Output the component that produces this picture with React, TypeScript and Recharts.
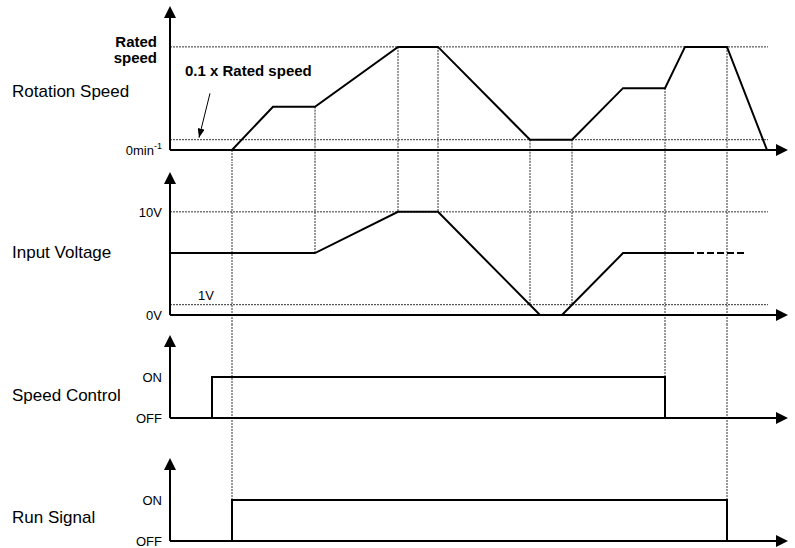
import React from 'react';
import { LineChart, Line, XAxis, YAxis, ReferenceLine } from 'recharts';

const FONT = '"Liberation Sans", Arial, Helvetica, sans-serif';

// shared time axis (arbitrary units)
const timeMax = 60.6;
const guideEnd = 59.8;

// rotation speed, 1 = rated speed
const speedTimes = [0, 6.2, 10.3, 14.5, 22.8, 26.8, 36.0, 40.2, 45.3, 49.5, 51.5, 55.7, 59.7];
const speedValues = [0, 0, 0.42, 0.42, 1, 1, 0.1, 0.1, 0.6, 0.6, 1, 1, 0];
const speedTicks = [0, 1];
const speedTickLabels = ['0min', 'Rated speed'];
const ratedSpeed = 1;
const lowSpeed = 0.1;

// input voltage (V)
const voltageTimes = [0, 14.5, 22.8, 26.8, 37.0, 39.2, 45.3, 51.7];
const voltageValues = [6, 6, 10, 10, 0, 0, 6, 6];
const voltageDashTimes = [51.7, 57.5];
const voltageDashValues = [6, 6];
const voltageTicks = [0, 10];
const voltageTickLabels = ['0V', '10V'];
const maxVoltage = 10;
const minVoltage = 1;

// on / off signals, 1 = ON
const speedControlTimes = [0, 4.2, 49.5];
const speedControlValues = [0, 1, 0];
const runSignalTimes = [0, 6.2, 55.7];
const runSignalValues = [0, 1, 0];
const onOffTicks = [0, 1];
const onOffLabels = ['OFF', 'ON'];

// dotted vertical guides: time, level where they start (speed panel),
// panel where they stop and the level they stop at
const guideTimes = [6.2, 14.5, 22.8, 26.8, 36.0, 40.2, 49.5, 55.7];
const guideStart = [0, 0.42, 1, 1, 0.1, 0.1, 0.6, 1];
const guideEndPanel = [3, 1, 1, 1, 1, 1, 2, 3];
const guideEndLevel = [0, 6, 10, 10, 1, 1, 0, 0];

const toPoints = (ts: number[], vs: number[]) => ts.map((t, i) => ({ t, v: vs[i] }));

const GUIDE = { stroke: '#333', strokeWidth: 1, strokeDasharray: '2 1' };

const panels = [
  { title: 'Rotation Speed', titleY: 93, height: 162, top: 18, bottom: 12, yMax: 1.28 },
  { title: 'Input Voltage', titleY: 92, height: 163, top: 22, bottom: 10, yMax: 12.7 },
  { title: 'Speed Control', titleY: 72, height: 115, top: 22, bottom: 22, yMax: 1.73 },
  { title: 'Run Signal', titleY: 79, height: 108, top: 30, bottom: 7, yMax: 1.73 },
];

function guideLines(panel: number, yMax: number) {
  return guideTimes.map((t, i) => {
    const endPanel = guideEndPanel[i];
    if (panel > endPanel) return null;
    const from = panel === 0 ? guideStart[i] : yMax * 2;
    const to = panel === endPanel ? guideEndLevel[i] : -yMax;
    return (
      <ReferenceLine
        key={`g-${panel}-${i}`}
        segment={[{ x: t, y: from }, { x: t, y: to }]}
        ifOverflow="visible"
        {...GUIDE}
      />
    );
  });
}

const speedTick = (props: any) => {
  const { x, y, payload } = props;
  const idx = speedTicks.indexOf(payload.value);
  if (idx === 1) {
    const [a, b] = speedTickLabels[1].split(' ');
    return (
      <text x={x - 5} y={y} textAnchor="end" fontFamily={FONT} fontSize={15} fontWeight="bold" fill="#000">
        <tspan x={x - 5} dy={0}>{a}</tspan>
        <tspan x={x - 5} dy={16}>{b}</tspan>
      </text>
    );
  }
  return (
    <text x={x} y={y} dy={5} textAnchor="end" fontFamily={FONT} fontSize={13} fill="#000">
      {speedTickLabels[0]}
      <tspan dy={-6} fontSize={9}>-1</tspan>
    </text>
  );
};

const makeTick = (ticks: number[], labels: string[]) => (props: any) => {
  const { x, y, payload } = props;
  return (
    <text x={x} y={y} dy={5} textAnchor="end" fontFamily={FONT} fontSize={13} fill="#000">
      {labels[ticks.indexOf(payload.value)]}
    </text>
  );
};

function Panel({ index, ticks, tick, children }: any) {
  const p = panels[index];
  return (
    <div style={{ position: 'relative', width: 795, height: p.height }}>
      <div
        style={{
          position: 'absolute',
          left: 12,
          top: p.titleY - 11,
          fontFamily: FONT,
          fontSize: 17,
          lineHeight: '20px',
          color: '#000',
          whiteSpace: 'nowrap',
        }}
      >
        {p.title}
      </div>
      <LineChart width={795} height={p.height} margin={{ top: p.top, right: 19, bottom: p.bottom - 2, left: 0 }}>
        <XAxis
          type="number"
          dataKey="t"
          domain={[0, timeMax]}
          allowDataOverflow
          tick={false}
          tickLine={false}
          height={2}
          axisLine={{ stroke: '#000', strokeWidth: 2, markerEnd: 'url(#axisArrow)' }}
        />
        <YAxis
          type="number"
          dataKey="v"
          domain={[0, p.yMax]}
          allowDataOverflow
          ticks={ticks}
          interval={0}
          width={170}
          tickLine={false}
          tick={tick}
          axisLine={{ stroke: '#000', strokeWidth: 2, markerStart: 'url(#axisArrow)' }}
        />
        {guideLines(index, p.yMax)}
        {children}
      </LineChart>
    </div>
  );
}

export default function App() {
  return (
    <div style={{ position: 'absolute', left: 0, top: 0, width: 795, height: 548, background: '#fff' }}>
      <svg width={0} height={0} style={{ position: 'absolute' }}>
        <defs>
          <marker
            id="axisArrow"
            viewBox="0 0 12 12"
            markerWidth={12}
            markerHeight={12}
            refX={0}
            refY={6}
            orient="auto-start-reverse"
            markerUnits="userSpaceOnUse"
          >
            <path d="M0,0 L12,6 L0,12 z" fill="#000" />
          </marker>
          <marker
            id="noteArrow"
            viewBox="0 0 9 7"
            markerWidth={9}
            markerHeight={7}
            refX={9}
            refY={3.5}
            orient="auto"
            markerUnits="userSpaceOnUse"
          >
            <path d="M0,0 L9,3.5 L0,7 z" fill="#000" />
          </marker>
        </defs>
      </svg>

      <Panel index={0} ticks={speedTicks} tick={speedTick}>
        <ReferenceLine segment={[{ x: 0, y: ratedSpeed }, { x: guideEnd, y: ratedSpeed }]} ifOverflow="visible" {...GUIDE} />
        <ReferenceLine segment={[{ x: 0, y: lowSpeed }, { x: guideEnd, y: lowSpeed }]} ifOverflow="visible" {...GUIDE} />
        <ReferenceLine
          segment={[{ x: 4.0, y: 0.55 }, { x: 2.9, y: 0.12 }]}
          ifOverflow="visible"
          shape={(s: any) => (
            <line x1={s.x1} y1={s.y1} x2={s.x2} y2={s.y2} stroke="#000" strokeWidth={1} markerEnd="url(#noteArrow)" />
          )}
        />
        <Line
          data={toPoints(speedTimes, speedValues)}
          dataKey="v"
          type="linear"
          stroke="#000"
          strokeWidth={2}
          dot={false}
          isAnimationActive={false}
        />
      </Panel>

      <Panel index={1} ticks={voltageTicks} tick={makeTick(voltageTicks, voltageTickLabels)}>
        <ReferenceLine segment={[{ x: 0, y: maxVoltage }, { x: guideEnd, y: maxVoltage }]} ifOverflow="visible" {...GUIDE} />
        <ReferenceLine
          segment={[{ x: 0, y: minVoltage }, { x: guideEnd, y: minVoltage }]}
          ifOverflow="visible"
          {...GUIDE}
          label={(l: any) => (
            <text x={l.viewBox.x + 28} y={l.viewBox.y - 5} fontFamily={FONT} fontSize={13} fill="#000">
              1V
            </text>
          )}
        />
        <Line
          data={toPoints(voltageTimes, voltageValues)}
          dataKey="v"
          type="linear"
          stroke="#000"
          strokeWidth={2}
          dot={false}
          isAnimationActive={false}
        />
        <Line
          data={toPoints(voltageDashTimes, voltageDashValues)}
          dataKey="v"
          type="linear"
          stroke="#000"
          strokeWidth={2}
          strokeDasharray="7 3"
          dot={false}
          isAnimationActive={false}
        />
      </Panel>

      <Panel index={2} ticks={onOffTicks} tick={makeTick(onOffTicks, onOffLabels)}>
        <Line
          data={toPoints(speedControlTimes, speedControlValues)}
          dataKey="v"
          type="stepAfter"
          stroke="#000"
          strokeWidth={2}
          dot={false}
          isAnimationActive={false}
        />
      </Panel>

      <Panel index={3} ticks={onOffTicks} tick={makeTick(onOffTicks, onOffLabels)}>
        <Line
          data={toPoints(runSignalTimes, runSignalValues)}
          dataKey="v"
          type="stepAfter"
          stroke="#000"
          strokeWidth={2}
          dot={false}
          isAnimationActive={false}
        />
      </Panel>

      <div
        style={{
          position: 'absolute',
          left: 185,
          top: 62,
          fontFamily: FONT,
          fontSize: 15,
          fontWeight: 'bold',
          lineHeight: '18px',
          whiteSpace: 'nowrap',
        }}
      >
        0.1 x Rated speed
      </div>
    </div>
  );
}
